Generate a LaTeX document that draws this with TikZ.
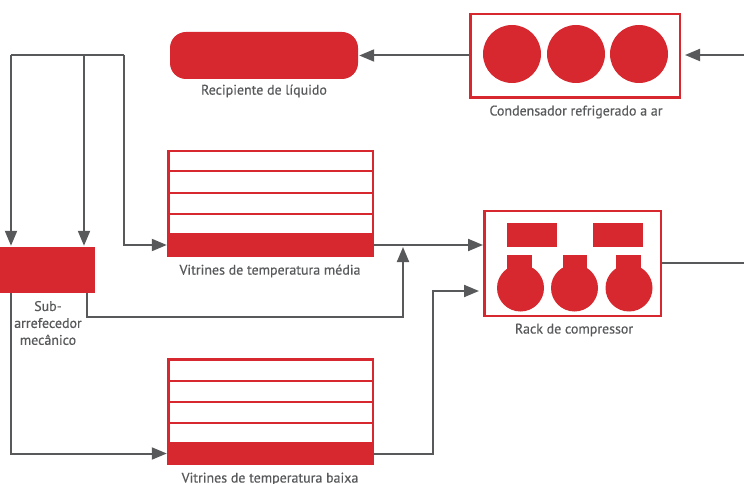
\documentclass[tikz,border=0pt]{standalone}
\usepackage{fontspec}
\setmainfont{PT Sans}
\newfontfamily\lblfont{PT Sans}[FakeBold=0.5]
\usetikzlibrary{arrows.meta}
\definecolor{rred}{HTML}{D7282F}
\definecolor{pgray}{HTML}{58595B}
\begin{document}
\begin{tikzpicture}[x=1bp,y=-1bp,
  pipe/.style={draw=pgray,line width=2bp},
  flow/.style={pipe,-{Triangle[length=15bp,width=12bp]}},
  redbox/.style={draw=rred,line width=2.5bp,fill=white,inner sep=0pt,rectangle},
  redfill/.style={fill=rred,draw=none,inner sep=0pt,rectangle},
  stripe/.style={draw=rred,line width=2.5bp},
  dot/.style={fill=rred,draw=none,circle,inner sep=0pt},
  lbl/.style={text=pgray,font=\lblfont\fontsize{14}{17}\selectfont,inner sep=0pt,align=center},
]
\useasboundingbox (0,0) rectangle (744,484);

% Liquid receiver
\node[redfill,rounded corners=16bp,minimum width=188bp,minimum height=47bp] (rec) at (264,55.5) {};
\node[lbl] (reclbl) at (264,91) {Recipiente de líquido};

% Condenser
\node[redbox,minimum width=209.5bp,minimum height=83.5bp] (cond) at (575,56) {};
\node[dot,minimum size=58bp] (c1) at (512,54) {};
\node[dot,minimum size=58bp] (c2) at (576,54) {};
\node[dot,minimum size=58bp] (c3) at (639,54) {};
\node[lbl] (condlbl) at (576,112) {Condensador refrigerado a ar};

% Medium temperature cases
\node[redbox,minimum width=204.5bp,minimum height=104.5bp] (vm) at (270.5,203.5) {};
\draw[stripe] (168.25,171) -- (372.75,171);
\draw[stripe] (168.25,193) -- (372.75,193);
\draw[stripe] (168.25,214) -- (372.75,214);
\node[redfill,minimum width=207bp,minimum height=24bp] (vmbar) at (270.5,245) {};
\node[lbl] (vmlbl) at (270,271) {Vitrines de temperatura média};

% Low temperature cases
\node[redbox,minimum width=204.5bp,minimum height=104.5bp] (vl) at (270.5,411.5) {};
\draw[stripe] (168.25,381) -- (372.75,381);
\draw[stripe] (168.25,402) -- (372.75,402);
\draw[stripe] (168.25,423) -- (372.75,423);
\node[redfill,minimum width=207bp,minimum height=23bp] (vlbar) at (270.5,453.5) {};
\node[lbl] (vllbl) at (270,479) {Vitrines de temperatura baixa};

% Mechanical subcooler
\node[redfill,minimum width=95bp,minimum height=46bp] (sc) at (47.5,270) {};
\node[lbl] (sclbl) at (48,323) {Sub-\\arrefecedor\\mecânico};

% Compressor rack
\node[redbox,minimum width=176.5bp,minimum height=104.5bp] (rack) at (572.5,263.5) {};
\node[redfill,minimum width=50bp,minimum height=24bp] (t1) at (532,235) {};
\node[redfill,minimum width=50bp,minimum height=24bp] (t2) at (618,235) {};
\node[redfill,minimum width=25bp,minimum height=20bp] (n1) at (519.5,265) {};
\node[redfill,minimum width=24bp,minimum height=20bp] (n2) at (575,265) {};
\node[redfill,minimum width=25bp,minimum height=20bp] (n3) at (628.5,265) {};
\node[dot,minimum size=47bp] (k1) at (520.5,288) {};
\node[dot,minimum size=47bp] (k2) at (574.5,288) {};
\node[dot,minimum size=47bp] (k3) at (629,288) {};
\node[lbl] (racklbl) at (574,330) {Rack de compressor};

% Free ends and junctions
\coordinate (cin) at (744,55);
\coordinate (rout) at (744,263.5);
\coordinate (m1) at (11,55);
\coordinate (m2) at (84,55);
\coordinate (m3) at (124,55);
\coordinate (scout) at (87,293);
\coordinate (j1) at (403,247);
\coordinate (rin2) at (479,291);

% Connectors
\draw[flow,shorten >=4bp] (cin) -- (cond.east |- cin);
\draw[flow,shorten >=1bp] (cond.west |- rec.east) -- (rec.east);
\draw[pipe] (m1) -- (m3);
\draw[flow,shorten >=1bp] (m1) -- (m1 |- sc.north);
\draw[flow,shorten >=1bp] (m2) -- (m2 |- sc.north);
\draw[flow] (m3) |- (vmbar.west);
\draw[flow] (scout) -- ++(0,24) -| (j1);
\draw[flow] (m1 |- sc.south) |- (vlbar.west);
\draw[flow] (vmbar.east) -- (rack.west |- vmbar.east);
\draw[flow] (vlbar.east) -- ++(59,0) |- (rin2);
\draw[pipe] (rack.east) -- (rout);
\end{tikzpicture}
\end{document}
